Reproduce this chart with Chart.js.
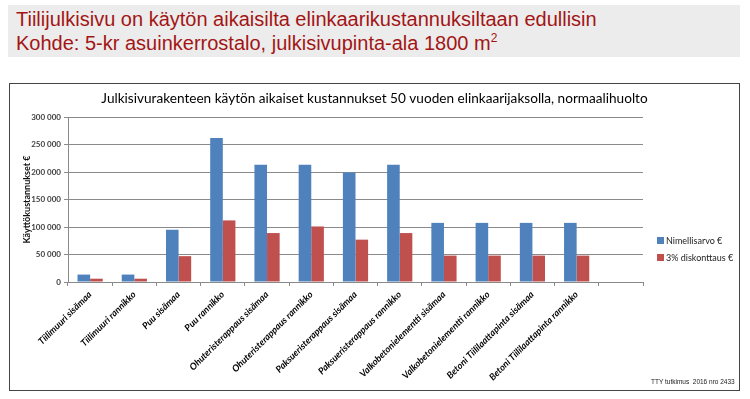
<!DOCTYPE html>
<html>
<head>
<meta charset="utf-8">
<script src="https://cdn.jsdelivr.net/npm/chart.js@4"></script>
<style>
    body { margin: 0; background: #fff; width: 750px; height: 399px; position: relative; overflow: hidden; }
    .header { position: absolute; left: 8px; top: 5px; width: 732px; height: 52px; background: #ececec; }
    .header div { position: absolute; left: 8px; font-family: 'Liberation Sans', Arial, sans-serif; font-size: 20px; color: #a31515; white-space: nowrap; }
    .box { position: absolute; left: 9px; top: 83px; width: 731px; height: 308px; border: 1.5px solid #444; box-sizing: border-box; }
    #chartWrap { position: absolute; left: 10px; top: 84px; width: 729px; height: 306px; }
    .legend { position: absolute; left: 657px; top: 235px; font-family: Lato, sans-serif; font-size: 9px; color: #222; }
    .legend .item { height: 17px; line-height: 12px; white-space: nowrap; }
    .legend .sw { display: inline-block; width: 7px; height: 7px; margin-right: 2px; vertical-align: 0px; }
    .footer { position: absolute; left: 651px; top: 378px; font-family: 'Liberation Sans', Arial, sans-serif; font-size: 6.5px; color: #222; }
</style>
</head>
<body>
<div class="header">
    <div style="top:3px">Tiilijulkisivu on käytön aikaisilta elinkaarikustannuksiltaan edullisin</div>
    <div style="top:26px">Kohde: 5-kr asuinkerrostalo, julkisivupinta-ala 1800 m<sup style="font-size:12px">2</sup></div>
</div>
<div class="box"></div>
<div id="chartWrap"><canvas id="costChart" width="729" height="306"></canvas></div>
<div class="legend" id="legend"></div>
<div class="footer">TTY tutkimus&nbsp; 2016 nro 2433</div>
<script>
const categories = [
    'Tiilimuuri sisämaa', 'Tiilimuuri rannikko', 'Puu sisämaa', 'Puu rannikko',
    'Ohuteristerappaus sisämaa', 'Ohuteristerappaus rannikko',
    'Paksueristerappaus sisämaa', 'Paksueristerappaus rannikko',
    'Valkobetonielementti sisämaa', 'Valkobetonielementti rannikko',
    'Betoni Tiililaattapinta sisämaa', 'Betoni Tiililaattapinta rannikko', ''
];
const nimellisarvo = [13500, 13500, 95000, 262000, 213000, 213000, 199000, 213000, 107500, 107500, 107500, 107500, null];
const diskonttaus = [6000, 6000, 47000, 112000, 89000, 101000, 77000, 89000, 48000, 48000, 48000, 48000, null];
const seriesNames = ['Nimellisarvo €', '3% diskonttaus €'];
const seriesColors = ['#4f81bd', '#c0504d'];
const yTicks = [0, 50000, 100000, 150000, 200000, 250000, 300000];

function fmt(v) {
    return String(v).replace(/\B(?=(\d{3})+(?!\d))/g, ' ');
}

const ctx = document.getElementById('costChart').getContext('2d');
const chart = new Chart(ctx, {
    type: 'bar',
    data: {
        labels: categories,
        datasets: [{
            label: seriesNames[0],
            data: nimellisarvo,
            backgroundColor: seriesColors[0]
        }, {
            label: seriesNames[1],
            data: diskonttaus,
            backgroundColor: seriesColors[1]
        }]
    },
    options: {
        responsive: false,
        animation: false,
        categoryPercentage: 0.57,
        barPercentage: 1,
        layout: { padding: 0 },
        plugins: {
            legend: { display: false },
            tooltip: { enabled: false },
            title: {
                display: true,
                text: 'Julkisivurakenteen käytön aikaiset kustannukset 50 vuoden elinkaarijaksolla, normaalihuolto',
                color: '#000',
                font: { family: 'Lato', size: 13.6, weight: 'normal' },
                padding: { top: 6, bottom: 10.7 }
            }
        },
        scales: {
            y: {
                min: 0,
                max: yTicks[yTicks.length - 1],
                afterBuildTicks: function (scale) {
                    scale.ticks = yTicks.map(v => ({ value: v }));
                },
                afterFit: function (scale) { scale.width = 58; },
                border: { color: '#8a8a8a' },
                grid: { color: '#8a8a8a', tickLength: 4 },
                ticks: {
                    padding: 3,
                    color: '#404040',
                    font: { family: 'Lato', size: 8, weight: 'bold' },
                    callback: v => fmt(v)
                },
                title: {
                    display: true,
                    text: 'Käyttökustannukset €',
                    color: '#111',
                    font: { family: 'Lato', size: 9, weight: 'bold' },
                    padding: { top: 12, bottom: 0 }
                }
            },
            // empty right-hand scale that only reserves room for the legend
            side: {
                type: 'linear',
                position: 'right',
                display: true,
                afterFit: function (scale) { scale.width = 96; },
                border: { display: false },
                grid: { display: false },
                ticks: { display: false }
            },
            x: {
                afterFit: function (scale) { scale.height = 108; },
                border: { color: '#8a8a8a' },
                grid: { drawOnChartArea: false, color: '#8a8a8a', tickLength: 4 },
                ticks: {
                    autoSkip: false,
                    minRotation: 45,
                    maxRotation: 45,
                    padding: 3,
                    color: '#000',
                    font: { family: 'Lato', size: 9.3, weight: 'bold', style: 'italic' }
                }
            }
        }
    }
});

// legend outside the canvas, built from the datasets
const legendEl = document.getElementById('legend');
chart.data.datasets.forEach(ds => {
    const item = document.createElement('div');
    item.className = 'item';
    item.innerHTML = '<span class="sw" style="background:' + ds.backgroundColor + '"></span>' + ds.label;
    legendEl.appendChild(item);
});
</script>
</body>
</html>
